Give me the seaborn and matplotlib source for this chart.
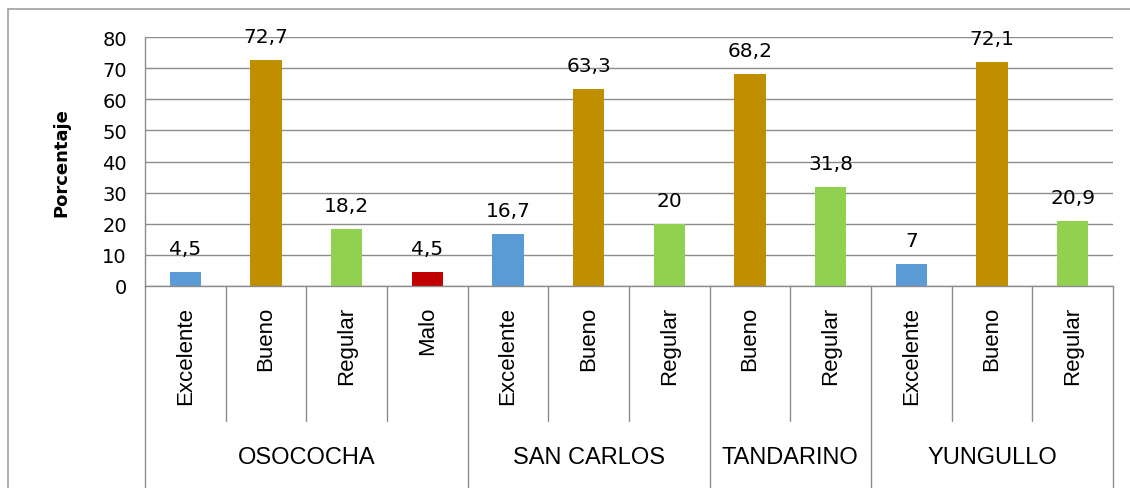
import matplotlib
matplotlib.use("Agg")
import matplotlib.pyplot as plt
import matplotlib.transforms as mtransforms
from matplotlib.lines import Line2D
import seaborn as sns
import pandas as pd

# Data
groups = ["OSOCOCHA", "OSOCOCHA", "OSOCOCHA", "OSOCOCHA",
          "SAN CARLOS", "SAN CARLOS", "SAN CARLOS",
          "TANDARINO", "TANDARINO",
          "YUNGULLO", "YUNGULLO", "YUNGULLO"]
ratings = ["Excelente", "Bueno", "Regular", "Malo",
           "Excelente", "Bueno", "Regular",
           "Bueno", "Regular",
           "Excelente", "Bueno", "Regular"]
values = [4.5, 72.7, 18.2, 4.5,
          16.7, 63.3, 20,
          68.2, 31.8,
          7, 72.1, 20.9]
group_names = ["OSOCOCHA", "SAN CARLOS", "TANDARINO", "YUNGULLO"]
colors = {"Excelente": "#5B9BD5", "Bueno": "#BF8F00",
          "Regular": "#92D050", "Malo": "#C00000"}
yticks = [0, 10, 20, 30, 40, 50, 60, 70, 80]

GRID = "#8c8c8c"


def build_frame():
    keys = [f"{g}|{r}" for g, r in zip(groups, ratings)]
    return pd.DataFrame({"key": keys, "rating": ratings, "value": values})


def main():
    sns.set_style("white")
    plt.rcParams["font.family"] = ["DejaVu Sans"]
    plt.rcParams["text.color"] = "black"
    plt.rcParams["ytick.labelcolor"] = "black"

    fig = plt.figure(figsize=(11.3, 4.89), dpi=100)
    ax = fig.add_axes([145 / 1130, 1 - 287 / 489, 968 / 1130, 249 / 489])

    df = build_frame()
    sns.barplot(data=df, x="key", y="value", hue="rating", palette=colors,
                dodge=False, width=0.39, saturation=1, linewidth=0,
                legend=False, ax=ax)

    ax.set_ylim(0, 80)
    ax.set_xlim(-0.5, len(values) - 0.5)
    ax.set_yticks(yticks)
    ax.set_yticklabels([str(t) for t in yticks], fontsize=14, color="black")
    ax.tick_params(axis="y", direction="out", length=8, width=1, color=GRID, pad=5)
    ax.set_xticks([])
    ax.set_xlabel("")
    ax.set_ylabel("Porcentaje", fontsize=13, fontweight="bold", color="black")
    ax.yaxis.set_label_coords(-75 / 968, 0.5)

    ax.yaxis.grid(True, color=GRID, linewidth=1)
    ax.set_axisbelow(True)
    for side in ["top", "right"]:
        ax.spines[side].set_visible(False)
    for side in ["left", "bottom"]:
        ax.spines[side].set_color(GRID)
        ax.spines[side].set_linewidth(1)

    # value labels
    for i, v in enumerate(values):
        ax.annotate(f"{v:g}".replace(".", ","), (i, v), xytext=(0, 10),
                    textcoords="offset points", ha="center", va="bottom",
                    fontsize=14.5, color="black")

    # multi-level category axis
    trans = mtransforms.blended_transform_factory(ax.transData, ax.transAxes)
    sub_bottom = -(422 - 287) / 249
    grp_bottom = -(489 - 287) / 249
    for i, r in enumerate(ratings):
        ax.text(i, -20 / 249, r, transform=trans, rotation=90, ha="center",
                va="top", fontsize=16, color="black", family=["Liberation Sans"])

    bounds = [0]
    for i in range(1, len(groups)):
        if groups[i] != groups[i - 1]:
            bounds.append(i)
    bounds.append(len(groups))

    for i in range(len(groups) + 1):
        x = i - 0.5
        y0 = grp_bottom if i in bounds else sub_bottom
        ax.add_line(Line2D([x, x], [0, y0], transform=trans, color=GRID,
                           linewidth=1, clip_on=False))

    for name, a, b in zip(group_names, bounds[:-1], bounds[1:]):
        ax.text((a + b - 1) / 2, -(458 - 287) / 249, name, transform=trans,
                ha="center", va="center", fontsize=17, color="black",
                family=["Liberation Sans"])

    # outer chart frame (left and top edges only)
    fig.add_artist(Line2D([8 / 1130, 8 / 1130], [0, 1 - 10 / 489],
                          transform=fig.transFigure, color="#a0a0a0", linewidth=1.2))
    fig.add_artist(Line2D([8 / 1130, 1], [1 - 10 / 489, 1 - 10 / 489],
                          transform=fig.transFigure, color="#a0a0a0", linewidth=1.2))

    fig.savefig("out.png", dpi=100, facecolor="white")


if __name__ == "__main__":
    main()
